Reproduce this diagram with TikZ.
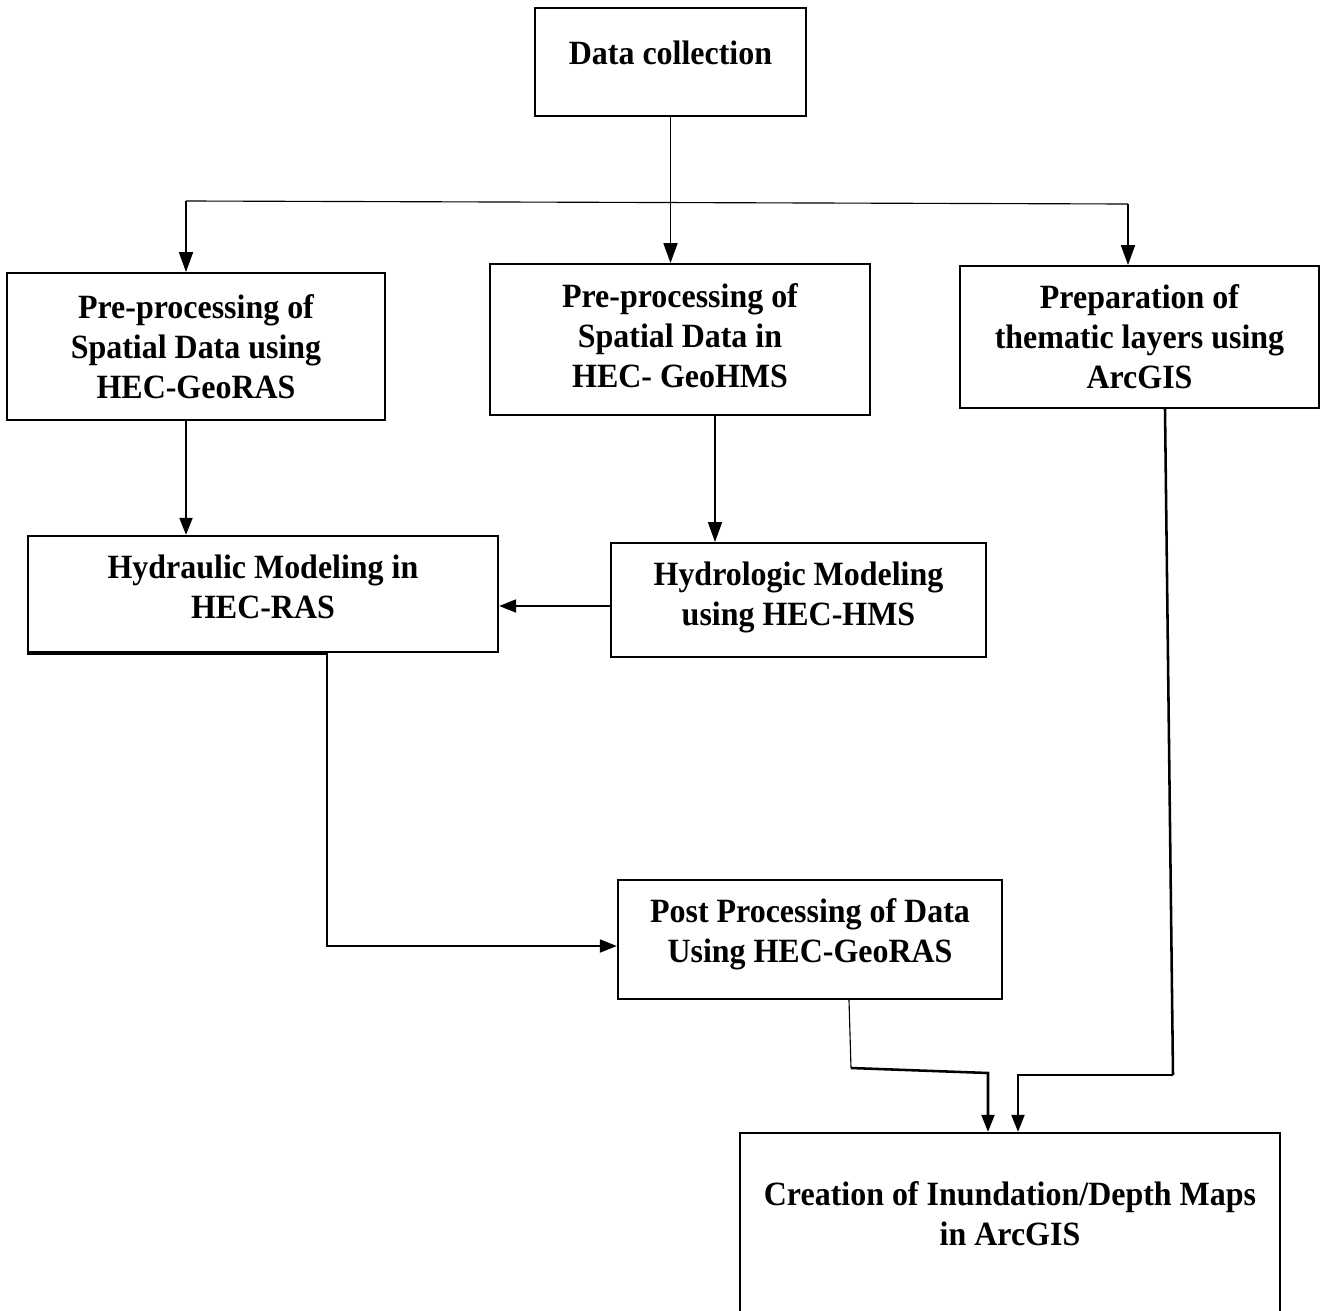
\documentclass[tikz,border=0pt]{standalone}
\usepackage{fontspec}
\setmainfont[FakeStretch=0.94]{Liberation Serif}
\usetikzlibrary{arrows.meta}
\def\pu{0.01241cm}
\tikzset{box/.style={draw, line width=0.75pt, align=center, inner sep=0pt,
  font=\fontsize{12}{14.1}\selectfont\bfseries}}
\tikzset{flow/.style={line width=0.4pt, -{Triangle[width=5pt,length=7pt]}}}
\tikzset{flowthick/.style={line width=0.9pt, -{Triangle[width=4.5pt,length=6pt]}}}

\begin{document}
\begin{tikzpicture}[x=0.01241cm, y=-0.01241cm]
\useasboundingbox (0,0) rectangle (1322,1311);

\node[box, minimum width=271*\pu, minimum height=108*\pu, text depth=6.4pt] (dc) at (670.5,62) {Data collection};
\node[box, minimum width=378*\pu, minimum height=147*\pu] (a) at (196,346.5) {Pre-processing of\\Spatial Data using\\HEC-GeoRAS};
\node[box, minimum width=380*\pu, minimum height=151*\pu, text depth=2.8pt] (b) at (680,339.5) {Pre-processing of\\Spatial Data in\\HEC- GeoHMS};
\node[box, minimum width=359*\pu, minimum height=142*\pu] (c) at (1139.5,337) {Preparation of\\thematic layers using\\ArcGIS};
\node[box, minimum width=470*\pu, minimum height=116*\pu, text depth=4.9pt] (d) at (263,594) {Hydraulic Modeling in\\HEC-RAS};
\node[box, minimum width=375*\pu, minimum height=114*\pu, text depth=4.7pt] (e) at (798.5,600) {Hydrologic Modeling\\using HEC-HMS};
\node[box, minimum width=384*\pu, minimum height=119*\pu, text depth=6.5pt] (f) at (810,939.5) {Post Processing of Data\\Using HEC-GeoRAS};
\node[box, minimum width=540*\pu, minimum height=184*\pu, text depth=7.8pt] (g) at (1010,1225) {Creation of Inundation/Depth Maps\\in ArcGIS};

% split below data collection
\coordinate (la) at (186,201);
\coordinate (rc) at (1128,204);
\draw[line width=0.4pt] (la) -- (rc);
\draw[flow] (dc.south) -- (dc.south |- b.north);
\draw[flow] (la) -- (la |- a.north);
\draw[flow] (rc) -- (rc |- c.north);

% modelling
\draw[flowthick] (a.south -| 186,0) -- (d.north -| 186,0);
\draw[flow] (b.south -| 715,0) -- (e.north -| 715,0);
\draw[flowthick] (e.west |- 0,606) -- (d.east |- 0,606);

% hydraulic to post processing
\coordinate (dbend) at (327,946);
\draw[line width=1.2pt] (d.south west) -- (d.south west -| dbend);
\draw[flowthick] (d.south -| dbend) -- (dbend) -- (dbend -| f.west);

% into the maps box
\coordinate (fb) at (851,1068);
\coordinate (fh) at (988,1073);
\coordinate (cb) at (1173,1075);
\coordinate (ch) at (1018,1075);
\draw[line width=0.4pt] (f.south -| 849,0) -- (fb);
\draw[flowthick] (fb) -- (fh) -- (fh |- g.north);
\draw[line width=0.9pt] (c.south -| 1165,0) -- (cb);
\draw[flowthick] (cb) -- (ch) -- (ch |- g.north);

\end{tikzpicture}
\end{document}
